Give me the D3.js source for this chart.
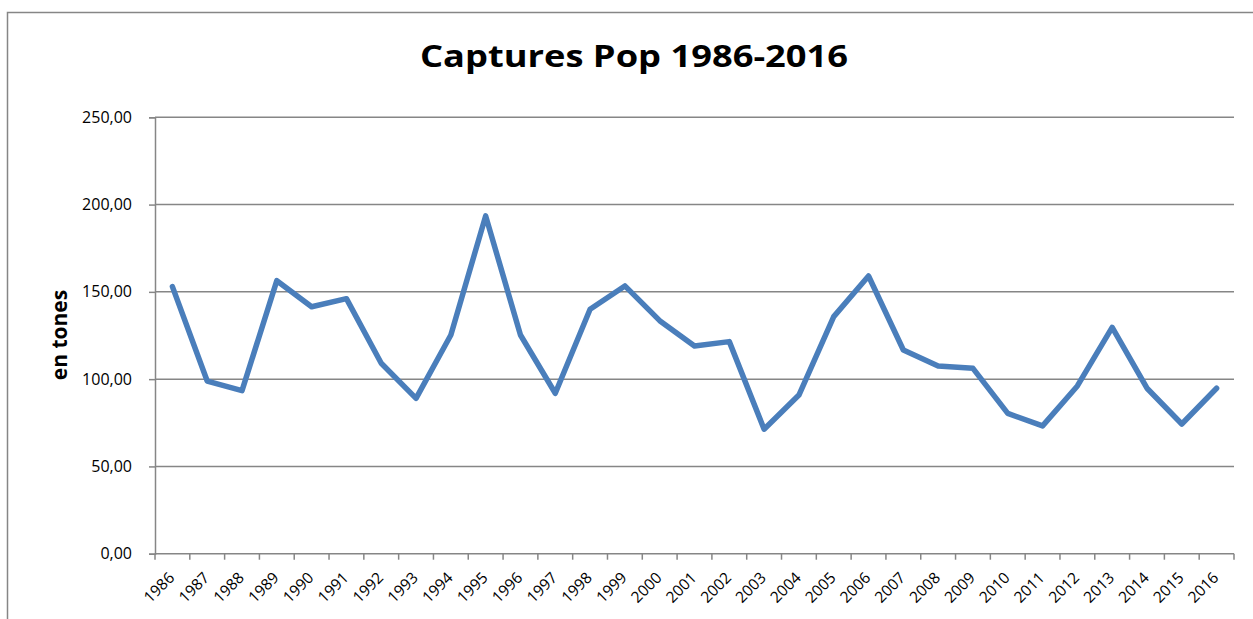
<!DOCTYPE html>
<html>
<head>
<meta charset="utf-8">
<script src="https://cdn.jsdelivr.net/npm/d3@7"></script>
<style>
  body { margin: 0; background: #fff; }
  svg { display: block; font-family: "Open Sans", "Liberation Sans", sans-serif; }
</style>
</head>
<body>
<svg id="chart" width="1253" height="619"></svg>
<script>
// years on the category axis
const years = ["1986","1987","1988","1989","1990","1991","1992","1993","1994","1995",
  "1996","1997","1998","1999","2000","2001","2002","2003","2004","2005","2006",
  "2007","2008","2009","2010","2011","2012","2013","2014","2015","2016"];
// captures, en tones
const captures = [153.0, 98.9, 93.4, 156.4, 141.5, 146.1, 109.1, 89.0, 125.3, 193.5,
  125.3, 91.9, 140.0, 153.4, 133.5, 119.0, 121.5, 71.3, 90.9, 135.8, 159.1,
  116.7, 107.5, 106.2, 80.4, 73.2, 96.1, 129.7, 94.8, 74.3, 94.8];
const yTicks = [0, 50, 100, 150, 200, 250];
const title = "Captures Pop 1986-2016";
const yTitle = "en tones";

const svg = d3.select("#chart");
const width = +svg.attr("width");
const height = +svg.attr("height");
const margin = { top: 117.3, right: 19, bottom: 65.3, left: 155 };
const innerWidth = width - margin.left - margin.right;
const innerHeight = height - margin.top - margin.bottom;
const gridColor = "#868686";

svg.append("rect").attr("width", width).attr("height", height).attr("fill", "#fff");
// chart frame: only the left and top edges are in view
svg.append("path")
  .attr("d", `M7.5,${height} V12.5 H${width}`)
  .attr("fill", "none").attr("stroke", gridColor).attr("stroke-width", 1.5);

svg.append("text")
  .attr("x", 634).attr("y", 67)
  .attr("text-anchor", "middle")
  .attr("font-size", 30).attr("font-weight", "bold")
  .attr("textLength", 428).attr("lengthAdjust", "spacingAndGlyphs")
  .text(title);

svg.append("text")
  .attr("transform", "translate(67,335) rotate(-90)")
  .attr("text-anchor", "middle")
  .attr("font-size", 21).attr("font-weight", "bold")
  .text(yTitle);

const g = svg.append("g").attr("transform", `translate(${margin.left},${margin.top})`);

const x = d3.scaleBand().domain(years).range([0, innerWidth]);
const y = d3.scaleLinear().domain([0, 250]).range([innerHeight, 0]);

// horizontal gridlines
g.selectAll("line.grid").data(yTicks.filter(d => d > 0)).join("line")
  .attr("class", "grid")
  .attr("x1", 0).attr("x2", innerWidth)
  .attr("y1", d => y(d)).attr("y2", d => y(d))
  .attr("stroke", gridColor).attr("stroke-width", 1.5);

// y axis
const yAxis = g.append("g")
  .call(d3.axisLeft(y).tickValues(yTicks).tickSize(6).tickPadding(17)
    .tickFormat(d => d3.format(".2f")(d).replace(".", ",")));
yAxis.select(".domain").attr("stroke", gridColor).attr("stroke-width", 1.5);
yAxis.selectAll(".tick line").attr("stroke", gridColor).attr("stroke-width", 1.5);
yAxis.selectAll(".tick text").attr("font-size", 16).attr("fill", "#000")
  .attr("font-family", "Open Sans");

// x axis: line, tick marks between categories, rotated labels
const xAxis = g.append("g").attr("transform", `translate(0,${innerHeight})`);
xAxis.append("line")
  .attr("x1", 0).attr("x2", innerWidth)
  .attr("stroke", gridColor).attr("stroke-width", 1.5);
xAxis.selectAll("line.tk").data(years.concat(["end"])).join("line")
  .attr("class", "tk")
  .attr("x1", d => d === "end" ? innerWidth : x(d))
  .attr("x2", d => d === "end" ? innerWidth : x(d))
  .attr("y1", 0).attr("y2", 6)
  .attr("stroke", gridColor).attr("stroke-width", 1.5);
xAxis.selectAll("text").data(years).join("text")
  .attr("transform", d => `translate(${x(d) + x.bandwidth() / 2 + 3},${25}) rotate(-45)`)
  .attr("text-anchor", "end")
  .attr("font-size", 15.5)
  .attr("fill", "#000")
  .text(d => d);

// series line
const line = d3.line()
  .x((d, i) => x(years[i]) + x.bandwidth() / 2)
  .y(d => y(d));
g.append("path")
  .datum(captures)
  .attr("fill", "none")
  .attr("stroke", "#4A7EBB")
  .attr("stroke-width", 5.5)
  .attr("stroke-linejoin", "round")
  .attr("stroke-linecap", "round")
  .attr("d", line);
</script>
</body>
</html>
